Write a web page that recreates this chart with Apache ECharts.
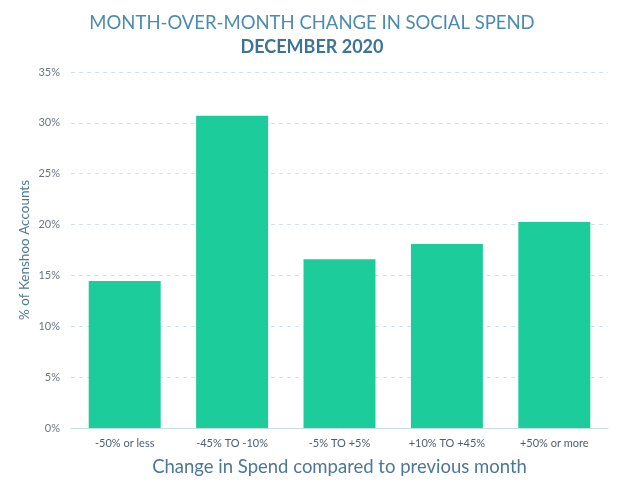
<!DOCTYPE html>
<html><head><meta charset="utf-8">
<script src="https://cdn.jsdelivr.net/npm/echarts@6/dist/echarts.min.js"></script>
<style>html,body{margin:0;padding:0;background:#fff}#c{width:624px;height:494px}</style>
</head><body><div id="c"></div>
<script>
const categories = ['-50% or less', '-45% TO -10%', '-5% TO +5%', '+10% TO +45%', '+50% or more'];
const shareOfAccounts = [14.45, 30.7, 16.6, 18.1, 20.25];
const yTicks = [0, 5, 10, 15, 20, 25, 30, 35];

const chart = echarts.init(document.getElementById('c'));
chart.setOption({
  animation: false,
  backgroundColor: '#fff',
  title: [{
    text: 'MONTH-OVER-MONTH CHANGE IN SOCIAL SPEND',
    left: 'center', top: 9,
    textStyle: { fontFamily: 'Lato', fontWeight: 'normal', fontSize: 18.5, color: '#4b8bb3' }
  }, {
    text: 'DECEMBER 2020',
    left: 'center', top: 33,
    textStyle: { fontFamily: 'Lato', fontWeight: 'bold', fontSize: 18, color: '#3d7397' }
  }],
  grid: { left: 71, right: 16, top: 72, bottom: 66, containLabel: false },
  xAxis: {
    type: 'category',
    data: categories,
    name: 'Change in Spend compared to previous month',
    nameLocation: 'middle',
    nameGap: 30,
    nameTextStyle: { fontFamily: 'Lato', fontSize: 18.5, color: '#4d7796' },
    axisLine: { lineStyle: { color: '#c5dbe6', width: 1 } },
    axisTick: { show: false },
    axisLabel: { fontFamily: 'Lato', fontSize: 11, color: '#505d6b', margin: 10 }
  },
  yAxis: {
    type: 'value',
    min: yTicks[0], max: yTicks[yTicks.length - 1], interval: 5,
    name: '% of Kenshoo Accounts',
    nameLocation: 'middle',
    nameGap: 39,
    nameMoveOverlap: false,
    nameTextStyle: { fontFamily: 'Lato', fontSize: 13.5, color: '#4d7796' },
    axisLine: { show: false },
    axisTick: { show: false },
    axisLabel: { fontFamily: 'Lato', fontSize: 11, color: '#6b7580', margin: 11, formatter: '{value}%' },
    splitLine: { lineStyle: { color: '#d0e2ea', type: [4, 4], width: 1 } }
  },
  series: [{
    type: 'bar',
    data: shareOfAccounts,
    barWidth: '67%',
    itemStyle: { color: '#1ccc9a' }
  }]
});
</script></body></html>
